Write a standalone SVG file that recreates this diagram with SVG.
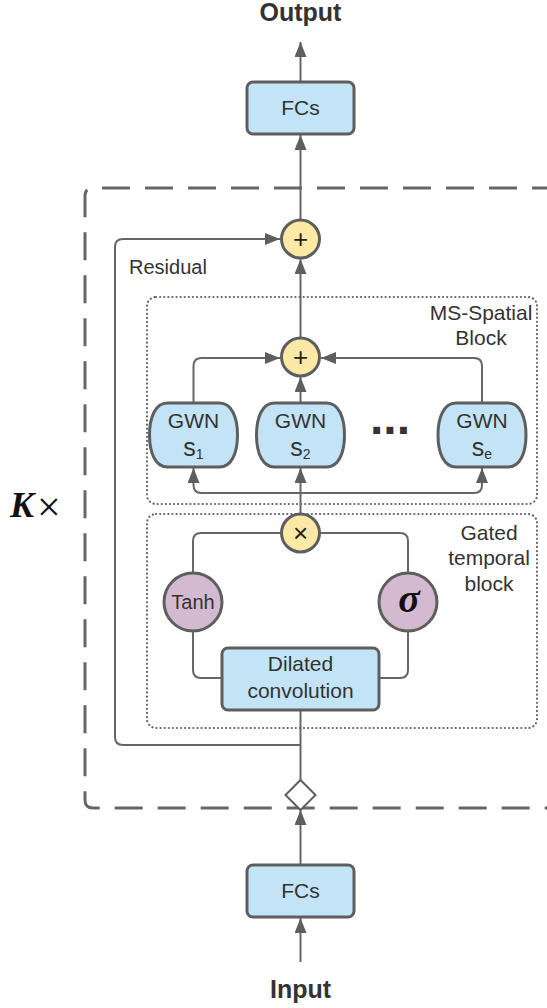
<svg xmlns="http://www.w3.org/2000/svg" width="547" height="1008" viewBox="0 0 547 1008">
<style>
text{font-family:"Liberation Sans",Arial,sans-serif;fill:#333;}
.lbl{font-size:21px;text-anchor:middle;}
.bold{font-size:25px;font-weight:bold;text-anchor:middle;}
.box{fill:#c3e4f6;stroke:#5e5e5e;stroke-width:3;}
.add{fill:#fde9a6;stroke:#5e5e5e;stroke-width:3;}
.act{fill:#d4bad0;stroke:#5e5e5e;stroke-width:3;}
.ln{fill:none;stroke:#666;stroke-width:2;}
.arr{fill:none;stroke:#666;stroke-width:2;marker-end:url(#ah);}
.dot{fill:none;stroke:#666;stroke-width:2.2;stroke-dasharray:0.1 4;stroke-linecap:round;}
.op{font-size:26px;text-anchor:middle;fill:#222;}
.s{font-size:25px;text-anchor:middle;}
.sub{font-size:14px;}
</style>
<defs>
<marker id="ah" viewBox="0 0 15 12" refX="15" refY="6" markerWidth="15" markerHeight="12" orient="auto" markerUnits="userSpaceOnUse"><path d="M0,0 L15,6 L0,12 z" fill="#5e5e5e"/></marker>
</defs>
<rect width="547" height="1008" fill="#fff"/>

<g id="outer-block">
<path d="M560 188 H93 Q85 188 85 196 V800 Q85 808 93 808 H560" fill="none" stroke="#666" stroke-width="3" stroke-dasharray="28 15"/>
<text x="10" y="517" style="font-family:'Liberation Serif',serif;font-size:36px;font-style:italic;font-weight:bold;fill:#111">K</text>
<text x="37" y="521" style="font-family:'Liberation Serif',serif;font-size:42px;fill:#111">×</text>
</g>

<g id="ms-spatial-block">
<rect x="147" y="297" width="390" height="207" rx="9" class="dot"/>
<text x="481" y="320" class="lbl">MS-Spatial</text>
<text x="481" y="345" class="lbl">Block</text>
</g>
<g id="gated-temporal-block">
<rect x="147" y="514" width="390" height="214" rx="9" class="dot"/>
<text x="489" y="540" class="lbl">Gated</text>
<text x="489" y="565" class="lbl">temporal</text>
<text x="489" y="591" class="lbl">block</text>
</g>

<g id="connectors">
<path class="arr" d="M300.5 82 V42"/>
<path class="arr" d="M300.5 219 V135"/>
<path class="arr" d="M300.5 337 V259"/>
<path class="arr" d="M300.5 745 H123 Q115 745 115 737 V247 Q115 239 123 239 H280"/>
<path class="arr" d="M193.5 403 V366 Q193.5 358 201.5 358 H280"/>
<path class="arr" d="M300.5 403 V377"/>
<path class="arr" d="M482 403 V366 Q482 358 474 358 H321"/>
<path class="arr" d="M300.5 513 V468"/>
<path class="arr" d="M300.5 493 H201.5 Q193.5 493 193.5 485 V468"/>
<path class="arr" d="M300.5 493 H474 Q482 493 482 485 V468"/>
<path class="ln" d="M280 533 H201 Q193 533 193 541 V572"/>
<path class="ln" d="M321 533 H400 Q408 533 408 541 V572"/>
<path class="ln" d="M193 632 V670 Q193 678 201 678 H222"/>
<path class="ln" d="M408 632 V670 Q408 678 400 678 H379"/>
<path class="ln" d="M300.5 710 V780"/>
<path class="arr" d="M300.5 865 V810"/>
<path class="arr" d="M300.5 962 V918"/>
</g>

<g id="output">
<text x="300.5" y="21" class="bold">Output</text>
</g>
<g id="fcs-top">
<rect x="247" y="82" width="107" height="52" rx="6" class="box"/>
<text x="300.5" y="115" class="lbl">FCs</text>
</g>
<g id="add-top">
<circle cx="300.5" cy="239" r="19" class="add"/>
<text x="300.5" y="248" class="op">+</text>
</g>
<g id="residual-label">
<text x="129" y="274" style="font-size:20px">Residual</text>
</g>
<g id="add-ms">
<circle cx="300.5" cy="357" r="19" class="add"/>
<text x="300.5" y="366" class="op">+</text>
</g>
<g id="gwn-s1">
<path d="M167.5 403 H219.5 C231.5 403 237.5 417 237.5 435 C237.5 453 231.5 467 219.5 467 H167.5 C155.5 467 149.5 453 149.5 435 C149.5 417 155.5 403 167.5 403 Z" class="box"/>
<text x="193.5" y="428" class="lbl">GWN</text>
<text x="193.5" y="456" class="s">s<tspan class="sub" dy="3">1</tspan></text>
</g>
<g id="gwn-s2">
<path d="M274.5 403 H326.5 C338.5 403 344.5 417 344.5 435 C344.5 453 338.5 467 326.5 467 H274.5 C262.5 467 256.5 453 256.5 435 C256.5 417 262.5 403 274.5 403 Z" class="box"/>
<text x="300.5" y="428" class="lbl">GWN</text>
<text x="300.5" y="456" class="s">s<tspan class="sub" dy="3">2</tspan></text>
</g>
<g id="ellipsis">
<text x="390" y="434" style="font-size:48px;font-weight:bold;text-anchor:middle;fill:#333">...</text>
</g>
<g id="gwn-se">
<path d="M456 403 H508 C520 403 526 417 526 435 C526 453 520 467 508 467 H456 C444 467 438 453 438 435 C438 417 444 403 456 403 Z" class="box"/>
<text x="482" y="428" class="lbl">GWN</text>
<text x="482" y="456" class="s">s<tspan class="sub" dy="3">e</tspan></text>
</g>
<g id="mult">
<circle cx="300.5" cy="533" r="19" class="add"/>
<text x="300.5" y="542" class="op">×</text>
</g>
<g id="tanh">
<circle cx="193" cy="602" r="29" class="act"/>
<text x="193" y="609" style="font-size:20px;text-anchor:middle">Tanh</text>
</g>
<g id="sigma">
<circle cx="408" cy="602" r="29" class="act"/>
<text x="409" y="612" style="font-family:'Liberation Serif',serif;font-size:40px;font-style:italic;font-weight:bold;text-anchor:middle;fill:#111">σ</text>
</g>
<g id="dilated-conv">
<rect x="222" y="648" width="157" height="62" rx="6" class="box"/>
<text x="300.5" y="671" class="lbl">Dilated</text>
<text x="300.5" y="698" class="lbl">convolution</text>
</g>
<g id="split">
<path d="M300.5 780 L315.5 795 L300.5 810 L285.5 795 Z" fill="#fff" stroke="#5e5e5e" stroke-width="2"/>
</g>
<g id="fcs-bottom">
<rect x="247" y="865" width="107" height="52" rx="6" class="box"/>
<text x="300.5" y="898" class="lbl">FCs</text>
</g>
<g id="input">
<text x="300.5" y="998" class="bold">Input</text>
</g>
</svg>
